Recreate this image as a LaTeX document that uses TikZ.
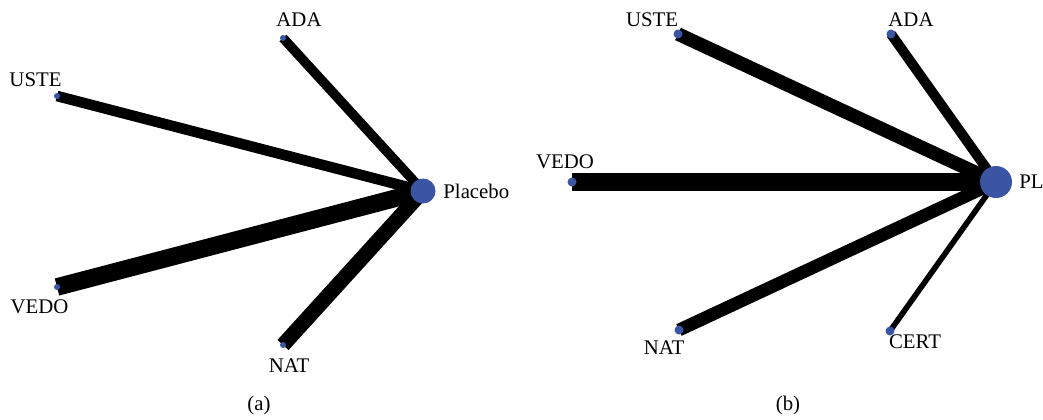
\documentclass[tikz,border=0pt]{standalone}
\usepackage{fontspec}
\setmainfont{Liberation Serif}
\usetikzlibrary{backgrounds}
\definecolor{dotblue}{HTML}{3A55A4}
\tikzset{
  dot/.style={circle,fill=dotblue,inner sep=0pt,minimum size=#1},
  lbl/.style={font=\fontsize{10.4}{12}\selectfont,inner sep=0pt},
  edge/.style={line width=#1,line cap=butt,black}
}
\begin{document}
\begin{tikzpicture}[x=0.5pt,y=-0.5pt]
\useasboundingbox (0,0) rectangle (1043,419);
% panel (a)
\node[dot=12.5pt] (pla) at (423,191) {};
\node[dot=3pt] (aada) at (283,38) {};
\node[dot=3pt] (auste) at (57,96) {};
\node[dot=3pt] (avedo) at (57,287) {};
\node[dot=3pt] (anat) at (283,345) {};
\node[lbl] (laada) at (299,20) {ADA};
\node[lbl] (lauste) at (35.5,80) {USTE};
\node[lbl] (lavedo) at (39.5,307) {VEDO};
\node[lbl] (lanat) at (289,366) {NAT};
\node[lbl,anchor=west] (lpla) at (443,191) {Placebo};
\node[lbl] (capa) at (259,405) {(a)};
% panel (b)
\node[dot=16pt] (pl) at (996,182) {};
\node[dot=4.5pt] (buste) at (678,34) {};
\node[dot=4.5pt] (bada) at (891,34) {};
\node[dot=4.5pt] (bvedo) at (572,182) {};
\node[dot=4.5pt] (bnat) at (679,330) {};
\node[dot=4.5pt] (bcert) at (890,331) {};
\node[lbl] (lbuste) at (652,20) {USTE};
\node[lbl] (lbada) at (911,20) {ADA};
\node[lbl] (lbvedo) at (565,162) {VEDO};
\node[lbl] (lbnat) at (664,348) {NAT};
\node[lbl] (lbcert) at (915,342) {CERT};
\node[lbl,anchor=west] (lpl) at (1019,182) {PL};
\node[lbl] (capb) at (788,405) {(b)};
\begin{scope}[on background layer]
\draw[edge=4.8pt] (aada.center) -- (pla.center);
\draw[edge=5.3pt] (auste.center) -- (pla.center);
\draw[edge=8.8pt] (avedo.center) -- (pla.center);
\draw[edge=7.5pt] (anat.center) -- (pla.center);
\draw[edge=6.8pt] (buste.center) -- (pl.center);
\draw[edge=5pt] (bada.center) -- (pl.center);
\draw[edge=8.7pt] (bvedo.center) -- (pl.center);
\draw[edge=6.4pt] (bnat.center) -- (pl.center);
\draw[edge=2.8pt] (bcert.center) -- (pl.center);
\end{scope}
\end{tikzpicture}
\end{document}
